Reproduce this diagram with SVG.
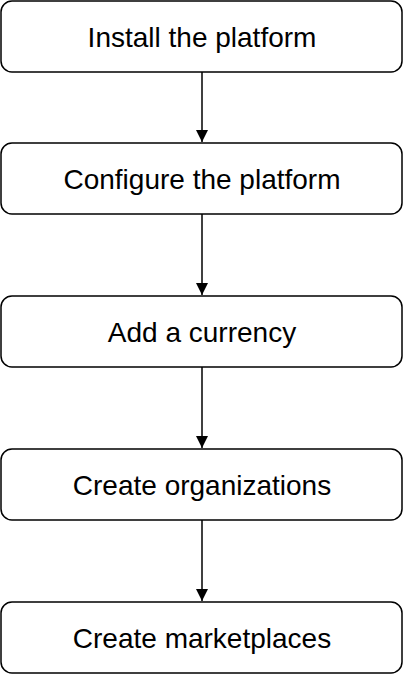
<svg xmlns="http://www.w3.org/2000/svg" width="403" height="675" viewBox="0 0 403 675">
<style>
.box{fill:#fff;stroke:#000;stroke-width:1.5}
.lbl{font-family:"Liberation Sans",Arial,sans-serif;font-size:28px;fill:#000;text-anchor:middle}
.edge{stroke:#000;stroke-width:1.5;fill:none}
</style>
<defs>
<marker id="arr" viewBox="0 0 12 12" refX="12" refY="6" markerWidth="12" markerHeight="12" markerUnits="userSpaceOnUse" orient="auto">
<path d="M0,0 L12,6 L0,12 Z" fill="#000"/>
</marker>
</defs>
<rect width="403" height="675" fill="#fff"/>
<g id="connectors">
<line class="edge" x1="202" y1="72" x2="202" y2="142" marker-end="url(#arr)"/>
<line class="edge" x1="202" y1="214" x2="202" y2="295" marker-end="url(#arr)"/>
<line class="edge" x1="202" y1="367" x2="202" y2="448" marker-end="url(#arr)"/>
<line class="edge" x1="202" y1="520" x2="202" y2="601" marker-end="url(#arr)"/>
</g>
<g id="n1"><rect class="box" x="1" y="1" width="401" height="71" rx="11"/><text class="lbl" x="202" y="47">Install the platform</text></g>
<g id="n2"><rect class="box" x="1" y="143" width="401" height="71" rx="11"/><text class="lbl" x="202" y="189">Configure the platform</text></g>
<g id="n3"><rect class="box" x="1" y="296" width="401" height="71" rx="11"/><text class="lbl" x="202" y="342">Add a currency</text></g>
<g id="n4"><rect class="box" x="1" y="449" width="401" height="71" rx="11"/><text class="lbl" x="202" y="495">Create organizations</text></g>
<g id="n5"><rect class="box" x="1" y="602" width="401" height="71" rx="11"/><text class="lbl" x="202" y="648">Create marketplaces</text></g>
</svg>
